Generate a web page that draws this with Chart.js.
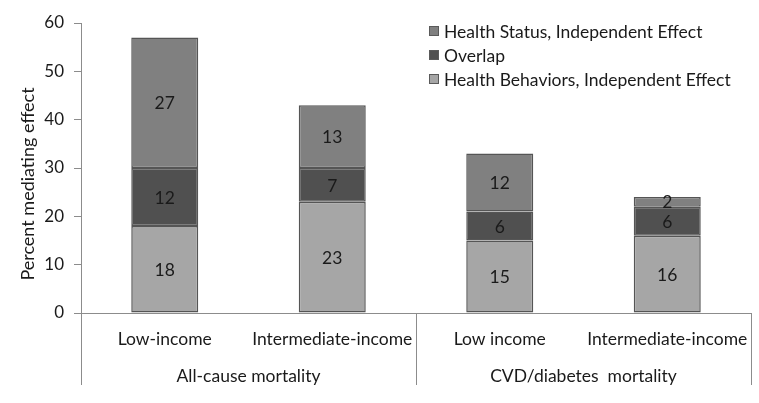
<!DOCTYPE html>
<html><head><meta charset="utf-8">
<script src="https://cdn.jsdelivr.net/npm/chart.js@4/dist/chart.umd.min.js"></script>
<style>html,body{margin:0;padding:0;background:#fff}#wrap{width:759px;height:403px}</style>
</head><body><div id="wrap"><canvas id="c" width="759" height="403"></canvas></div>
<script>
const categories = ["Low-income", "Intermediate-income", "Low income", "Intermediate-income"];
const groups = ["All-cause mortality", "CVD/diabetes  mortality"];
const groupSizes = [2, 2];
const behaviors = [18, 23, 15, 16];
const overlap = [12, 7, 6, 6];
const status = [27, 13, 12, 2];
const yTicks = [0, 10, 20, 30, 40, 50, 60];
const yTitle = 'Percent mediating effect';

const FONT = "Lato, 'Open Sans', sans-serif";
const FS = 17.5;
const TXT = '#1a1a1a';
const AX = '#8c8c8c';

const extras = {
  id: 'extras',
  afterDatasetsDraw(chart) {
    const ctx = chart.ctx;
    ctx.save();
    ctx.font = FS + 'px ' + FONT;
    ctx.fillStyle = TXT;
    ctx.textAlign = 'center';
    ctx.textBaseline = 'middle';
    chart.data.datasets.forEach((ds, di) => {
      chart.getDatasetMeta(di).data.forEach((bar, i) => {
        const p = bar.getProps(['x', 'y', 'base'], true);
        ctx.fillText(String(ds.data[i]), p.x, (p.y + p.base) / 2 + 1);
      });
    });
    ctx.restore();
  },
  afterDraw(chart) {
    const ctx = chart.ctx;
    const xs = chart.scales.x, ys = chart.scales.y;
    const y0 = ys.getPixelForValue(0);
    const bottom = y0 + 72;
    ctx.save();
    ctx.strokeStyle = AX;
    ctx.lineWidth = 1;
    let idx = 0;
    const edges = [xs.getPixelForValue(-0.5)];
    groups.forEach((g, gi) => {
      const start = idx, end = idx + groupSizes[gi] - 1;
      const left = xs.getPixelForValue(start - 0.5);
      const right = xs.getPixelForValue(end + 0.5);
      edges.push(right);
      ctx.font = FS + 'px ' + FONT;
      ctx.fillStyle = TXT;
      ctx.textAlign = 'center';
      ctx.textBaseline = 'middle';
      ctx.fillText(g, (left + right) / 2, y0 + 63);
      idx += groupSizes[gi];
    });
    edges.forEach(x => {
      const xx = Math.round(x) + 0.5;
      ctx.beginPath();
      ctx.moveTo(xx, y0);
      ctx.lineTo(xx, bottom);
      ctx.stroke();
    });
    // y title
    ctx.save();
    ctx.translate(28, 184);
    ctx.rotate(-Math.PI / 2);
    ctx.font = '18px ' + FONT;
    ctx.fillStyle = TXT;
    ctx.textAlign = 'center';
    ctx.textBaseline = 'middle';
    ctx.fillText(yTitle, 0, 0);
    ctx.restore();
    // legend
    const lx = 429, ly = [31, 55, 79];
    const order = [2, 1, 0];
    ctx.font = FS + 'px ' + FONT;
    ctx.textAlign = 'left';
    ctx.textBaseline = 'middle';
    order.forEach((di, k) => {
      const ds = chart.data.datasets[di];
      ctx.fillStyle = ds.backgroundColor;
      ctx.fillRect(lx, ly[k] - 5, 10, 10);
      ctx.strokeStyle = '#5a5a5a';
      ctx.strokeRect(lx + 0.5, ly[k] - 4.5, 9, 9);
      ctx.fillStyle = TXT;
      ctx.fillText(ds.label, lx + 15, ly[k] + 1);
    });
    ctx.restore();
  }
};

const ds = (label, data, color) => ({
  label, data, backgroundColor: color, borderColor: '#555555', borderWidth: 1.5,
  borderSkipped: false, barPercentage: 0.4, categoryPercentage: 1.0
});

new Chart(document.getElementById('c'), {
  type: 'bar',
  data: {
    labels: categories,
    datasets: [
      ds('Health Behaviors, Independent Effect', behaviors, '#a6a6a6'),
      ds('Overlap', overlap, '#505050'),
      ds('Health Status, Independent Effect', status, '#808080')
    ]
  },
  options: {
    responsive: false,
    animation: false,
    layout: { padding: { top: 23, right: 8, left: 0, bottom: 0 } },
    plugins: { legend: { display: false }, tooltip: { enabled: false } },
    scales: {
      x: {
        stacked: true,
        grid: { display: false },
        border: { display: true, color: AX, width: 1 },
        ticks: { font: { family: FONT, size: FS }, color: TXT, padding: 8, maxRotation: 0, autoSkip: false },
        afterFit(s) { s.height = 90; }
      },
      y: {
        stacked: true,
        min: 0, max: 60,
        afterBuildTicks(s) { s.ticks = yTicks.map(v => ({ value: v })); },
        grid: { drawOnChartArea: false, tickLength: 7, color: AX },
        border: { display: true, color: AX, width: 1 },
        ticks: { font: { family: FONT, size: 17 }, color: TXT, padding: 10 },
        afterFit(s) { s.width = 81; }
      }
    }
  },
  plugins: [extras]
});
</script></body></html>
